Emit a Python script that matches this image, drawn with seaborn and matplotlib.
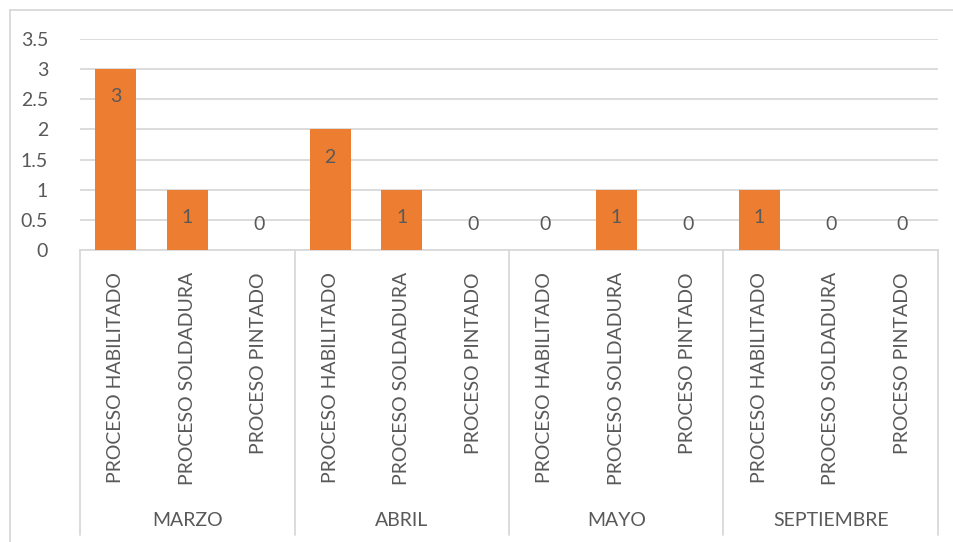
import matplotlib
matplotlib.use("Agg")
import matplotlib.pyplot as plt
import matplotlib.transforms as mtransforms
from matplotlib.lines import Line2D
import seaborn as sns
import pandas as pd

# Monthly count per process
months = ["MARZO", "ABRIL", "MAYO", "SEPTIEMBRE"]
processes = ["PROCESO HABILITADO", "PROCESO SOLDADURA", "PROCESO PINTADO"]
marzo = [3, 1, 0]
abril = [2, 1, 0]
mayo = [0, 1, 0]
septiembre = [1, 0, 0]
y_ticks = [0, 0.5, 1, 1.5, 2, 2.5, 3, 3.5]

rows = []
for month, vals in zip(months, [marzo, abril, mayo, septiembre]):
    for proc, v in zip(processes, vals):
        rows.append({"key": f"{month}|{proc}", "month": month, "proceso": proc, "valor": v})
df = pd.DataFrame(rows)

sns.set_theme(style="white")
plt.rcParams["font.family"] = ["Lato", "DejaVu Sans"]

TEXT = "#595959"
GRID = "#D9D9D9"
BAR = "#ED7D31"
FS = 14

fig = plt.figure(figsize=(9.54, 5.42), dpi=100)
ax = fig.add_axes([80 / 954, 1 - 250 / 542, (938 - 80) / 954, (250 - 39) / 542])

sns.barplot(data=df, x="key", y="valor", order=list(df["key"]), color=BAR,
            width=0.575, saturation=1, linewidth=0, ax=ax, zorder=3)

ax.set_ylim(0, 3.5)
ax.set_xlim(-0.5, len(df) - 0.5)
ax.set_yticks(y_ticks)
ax.set_yticklabels([f"{t:g}" for t in y_ticks])
ax.set_xticks(range(len(df)))
ax.set_xticklabels(df["proceso"], rotation=90)
ax.tick_params(axis="both", length=0, labelsize=FS, labelcolor=TEXT)
ax.tick_params(axis="y", pad=23)
ax.tick_params(axis="x", pad=16)
ax.set_xlabel("")
ax.set_ylabel("")

ax.yaxis.grid(True, color=GRID, linewidth=1.3, zorder=0)
ax.set_axisbelow(True)
for side in ["left", "right", "top"]:
    ax.spines[side].set_visible(False)
ax.spines["bottom"].set_color(GRID)
ax.spines["bottom"].set_linewidth(1.3)

# Value labels: inside the bar end, or just above the baseline for zeros
for i, v in enumerate(df["valor"]):
    if v > 0:
        ax.annotate(f"{v:g}", (i, v), xytext=(0, -20), textcoords="offset points",
                    ha="center", va="center", fontsize=FS, color=TEXT, zorder=4)
    else:
        ax.annotate(f"{v:g}", (i, 0), xytext=(0, 18), textcoords="offset points",
                    ha="center", va="center", fontsize=FS, color=TEXT, zorder=4)

# Group separators and month labels under the category axis
trans = mtransforms.blended_transform_factory(ax.transData, ax.transAxes)
y_bottom = -(535 - 250) / (250 - 39)
n = len(processes)
for g in range(len(months) + 1):
    xb = g * n - 0.5
    ax.plot([xb, xb], [0, y_bottom], color=GRID, linewidth=1.3,
            transform=trans, clip_on=False)
y_month = -(520 - 250) / (250 - 39)
for g, month in enumerate(months):
    ax.text(g * n + (n - 1) / 2, y_month, month, transform=trans,
            ha="center", va="center", fontsize=FS, color=TEXT)

# Chart frame
fig.add_artist(Line2D([10 / 954, 10 / 954], [0, 1 - 10 / 542], color=GRID, linewidth=1.3))
fig.add_artist(Line2D([10 / 954, 1], [1 - 10 / 542, 1 - 10 / 542], color=GRID, linewidth=1.3))

fig.savefig("out.png", dpi=100, facecolor="white")
